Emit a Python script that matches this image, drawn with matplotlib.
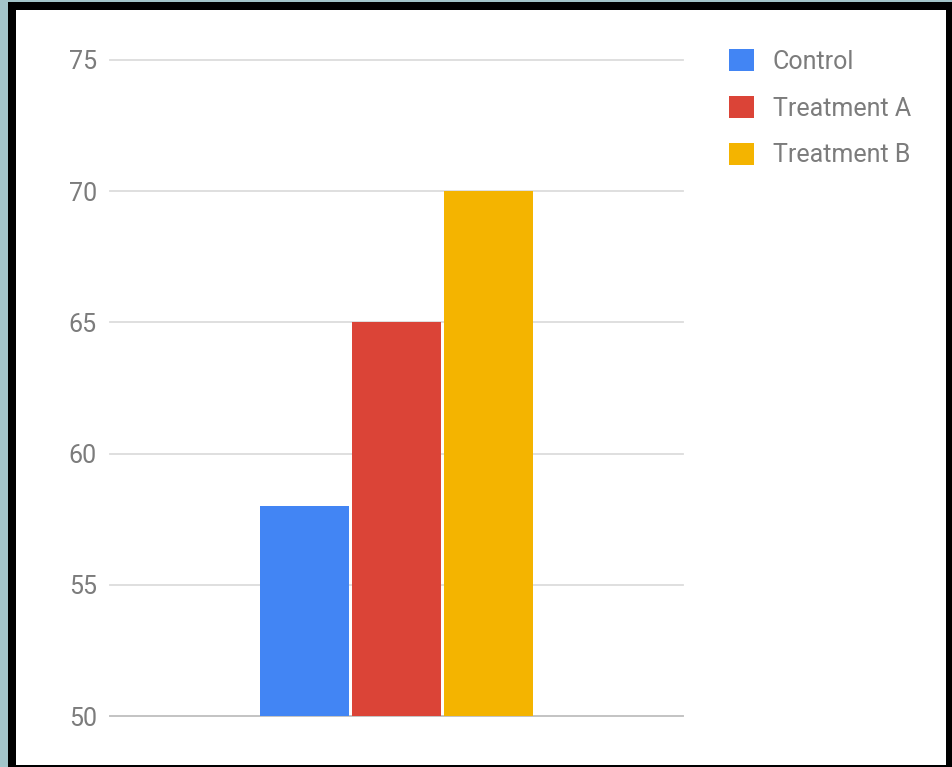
import matplotlib.pyplot as plt
from matplotlib.patches import Rectangle, Patch

# data
groups = ['Control', 'Treatment A', 'Treatment B']
values = [58, 65, 70]
colors = ['#4285F4', '#DB4437', '#F4B400']
yticks = [50, 55, 60, 65, 70, 75]

W, H = 953, 767
plt.rcParams['font.family'] = ['Roboto', 'DejaVu Sans']

fig = plt.figure(figsize=(W / 100, H / 100), dpi=100, facecolor='#a3c4c9')


def frac(x0, y0, x1, y1):
    # pixel box (top-left origin) -> figure fractions
    return (x0 / W, 1 - y1 / H), (x1 - x0) / W, (y1 - y0) / H


for box, c in [((8, 2, W + 5, H + 5), 'black'), ((16, 10, 946, 765), 'white')]:
    xy, w, h = frac(*box)
    fig.patches.append(Rectangle(xy, w, h, transform=fig.transFigure,
                                 facecolor=c, edgecolor='none', zorder=-5))

xy, w, h = frac(110, 60, 683, 716)
ax = fig.add_axes([xy[0], xy[1], w, h], zorder=2)
ax.set_facecolor('none')

pos = [-1, 0, 1]
ax.bar(pos, values, width=0.967, color=colors, zorder=3)
ax.set_xlim(-3.114, 3.114)
ax.set_ylim(50, 75)
ax.set_yticks(yticks)
ax.set_xticks([])
ax.tick_params(axis='y', length=0, pad=9.4, labelsize=18, labelcolor='#7c7c7c')
for s in ax.spines.values():
    s.set_visible(False)
ax.grid(axis='y', color='#dcdcdc', linewidth=1.3, zorder=0)
for gl in ax.yaxis.get_gridlines():
    gl.set_clip_on(False)
ax.axhline(50, color='#c2c2c2', linewidth=1.3, zorder=2, clip_on=False)

handles = [Patch(facecolor=c, edgecolor='none') for c in colors]
leg = fig.legend(handles, groups, loc='upper left',
                 bbox_to_anchor=(729 / W, 1 - 49 / H), frameon=False,
                 fontsize=18, labelcolor='#7c7c7c', handlelength=1.0,
                 handleheight=1.0, handletextpad=0.76, labelspacing=0.88,
                 borderpad=0, borderaxespad=0)
leg.set_zorder(3)

fig.savefig('out.png', dpi=100, facecolor=fig.get_facecolor())
